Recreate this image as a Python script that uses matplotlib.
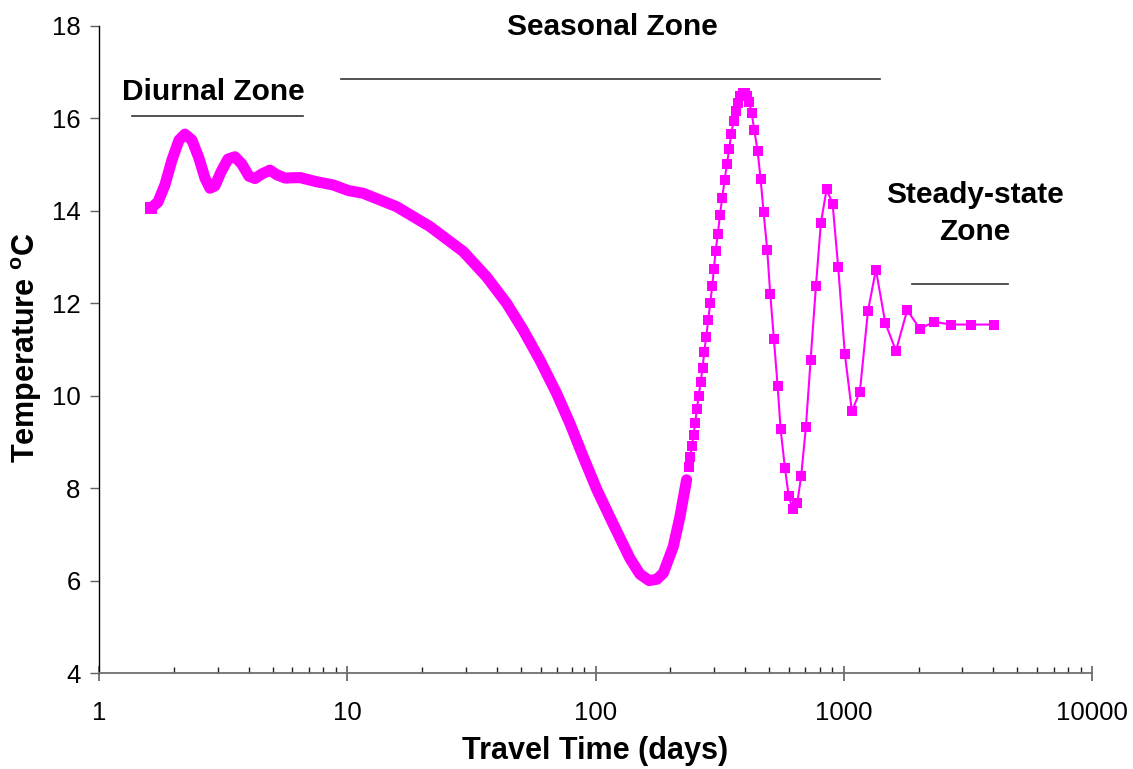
import matplotlib
matplotlib.use('Agg')
import matplotlib.pyplot as plt
from matplotlib.ticker import LogLocator, NullFormatter, FixedLocator

plt.rcParams['font.family'] = ['Liberation Sans', 'DejaVu Sans']
plt.rcParams['mathtext.fontset'] = 'custom'
plt.rcParams['mathtext.rm'] = 'Liberation Sans'
plt.rcParams['mathtext.bf'] = 'Liberation Sans:bold'

MAGENTA = '#FF00FF'

# early part of the profile, points so close together they form a solid band
band_days = [1.616, 1.724, 1.839, 1.963, 2.095, 2.214, 2.363, 2.522, 2.666, 2.793,
             2.925, 3.093, 3.300, 3.522, 3.758, 4.010, 4.240, 4.524, 4.872, 5.200,
             5.601, 6.438, 7.514, 8.766, 10.07, 11.58, 15.79, 21.50, 29.28, 36.38,
             43.80, 51.09, 59.65, 69.65, 78.78, 89.13, 100.9, 117.8, 137.5, 150.8,
             164.4, 176.6, 187.3, 205.4, 218.6, 232.6]
band_temp = [14.06, 14.19, 14.56, 15.10, 15.53, 15.66, 15.53, 15.14, 14.71, 14.49,
             14.54, 14.84, 15.12, 15.17, 15.01, 14.75, 14.70, 14.80, 14.88, 14.78,
             14.71, 14.72, 14.63, 14.56, 14.44, 14.38, 14.09, 13.66, 13.12, 12.57,
             12.00, 11.42, 10.77, 10.05, 9.40, 8.68, 7.98, 7.22, 6.48, 6.14,
             6.00, 6.03, 6.16, 6.73, 7.38, 8.18]

# later part, individual points
point_days = [237.0, 240.5, 244.3, 248.2, 251.9, 255.9, 260.0, 264.9, 269.9, 273.9,
              279.0, 284.2, 289.5, 295.0, 299.6, 304.4, 310.9, 316.8, 323.6, 330.9,
              338.1, 345.4, 351.8, 359.7, 367.5, 374.4, 382.5, 391.0, 398.6, 405.9,
              414.7, 425.2, 435.5, 449.5, 462.2, 475.2, 491.4, 505.3, 522.9, 541.2,
              556.5, 579.1, 599.3, 621.9, 649.0, 673.6, 703.6, 734.9, 772.0, 808.6,
              852.6, 901.5, 949.4, 1010, 1078, 1161, 1251, 1347, 1469, 1622,
              1800, 2026, 2313, 2694, 3243, 4036]
point_temp = [8.46, 8.68, 8.92, 9.16, 9.42, 9.71, 9.99, 10.29, 10.61, 10.94,
              11.28, 11.63, 12.00, 12.37, 12.74, 13.13, 13.51, 13.90, 14.28, 14.66,
              15.02, 15.34, 15.66, 15.94, 16.17, 16.34, 16.49, 16.56, 16.54, 16.49,
              16.36, 16.12, 15.76, 15.29, 14.69, 13.97, 13.15, 12.21, 11.22, 10.21,
              9.27, 8.44, 7.84, 7.55, 7.67, 8.27, 9.33, 10.77, 12.37, 13.74,
              14.47, 14.15, 12.78, 10.90, 9.66, 10.09, 11.83, 12.73, 11.58, 10.97,
              11.85, 11.45, 11.60, 11.54, 11.54, 11.54]

y_ticks = [4, 6, 8, 10, 12, 14, 16, 18]
x_ticks = [1, 10, 100, 1000, 10000]
x_ticklabels = ['1', '10', '100', '1000', '10000']

fig = plt.figure(figsize=(11.33, 7.69), dpi=100)
ax = fig.add_axes([0.0876, 0.1248, 0.8762, 0.8414])

# the dense band: thick line, a square at the first point for the flat start
ax.plot(band_days, band_temp, color=MAGENTA, lw=8, solid_joinstyle='round',
        solid_capstyle='round', zorder=3)
ax.plot(band_days[0], band_temp[0], color=MAGENTA, marker='s', ms=8, mew=0, zorder=3)
ax.plot(point_days, point_temp, color=MAGENTA, lw=1.5, marker='s', ms=6.8,
        mew=0, zorder=3)

ax.set_xscale('log')
ax.set_xlim(1, 10000)
ax.set_ylim(4, 18)

ax.xaxis.set_major_locator(FixedLocator(x_ticks))
ax.set_xticklabels(x_ticklabels)
ax.xaxis.set_minor_locator(LogLocator(base=10, subs=range(2, 10)))
ax.xaxis.set_minor_formatter(NullFormatter())
ax.set_yticks(y_ticks)

for s in ['top', 'right']:
    ax.spines[s].set_visible(False)
ax.spines['left'].set_color('black')
ax.spines['left'].set_linewidth(1.0)
ax.spines['bottom'].set_color('#707070')
ax.spines['bottom'].set_linewidth(1.3)

ax.tick_params(axis='y', which='major', direction='out', length=6.5, width=1,
               color='#606060', labelsize=18.5, pad=7)
ax.tick_params(axis='x', which='major', direction='inout', length=10.8, width=1.2,
               color='#606060', labelsize=18.5, pad=15)
ax.tick_params(axis='x', which='minor', direction='in', length=4.3, width=1,
               color='#202020')

fig.text(595.5 / 1133, 1 - 751 / 769, 'Travel Time (days)', fontsize=22,
         fontweight='bold', ha='center', va='center')
fig.text(27 / 1133, 1 - 348 / 769, r'Temperature $^{\mathbf{o}}$C', fontsize=22,
         fontweight='bold', ha='center', va='center', rotation=90)

# zone labels and bars
ann = dict(fontsize=21.5, fontweight='bold', ha='center', va='baseline')
ax.text(2.88, 16.40, 'Diurnal Zone', **ann)
ax.plot([1.351, 6.60], [16.06, 16.06], color='#333333', lw=1.2, clip_on=False)
ax.text(116.9, 17.805, 'Seasonal Zone', **ann)
ax.plot([9.45, 1398], [16.853, 16.853], color='#333333', lw=1.2, clip_on=False)
ax.text(3365, 14.163, 'Steady-state', **ann)
ax.text(3365, 13.369, 'Zone', **ann)
ax.plot([1886, 4571], [12.41, 12.41], color='#333333', lw=1.2, clip_on=False)

fig.savefig('out.png', dpi=100)
